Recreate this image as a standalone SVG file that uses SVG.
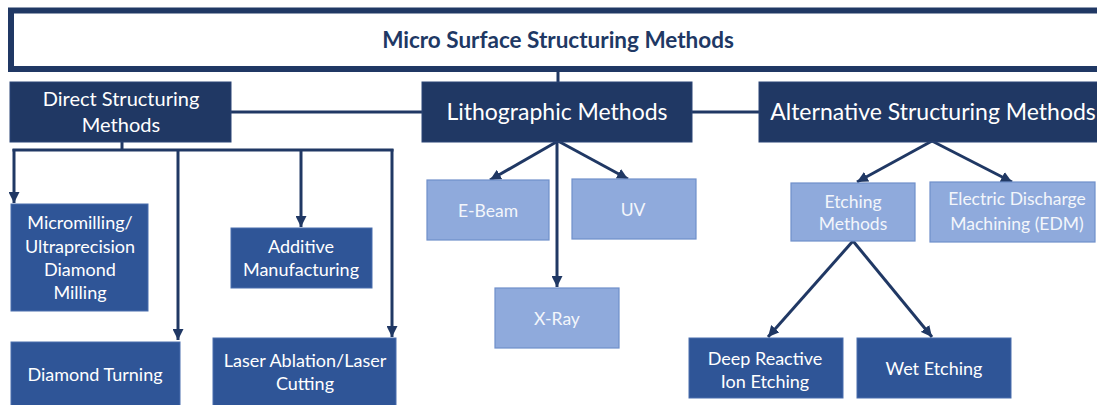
<svg xmlns="http://www.w3.org/2000/svg" width="1097" height="405" viewBox="0 0 1097 405">
  <defs>
    <marker id="arrow" viewBox="0 0 10 10" refX="10" refY="5" markerWidth="11" markerHeight="11" markerUnits="userSpaceOnUse" orient="auto">
      <path d="M0,0 L10,5 L0,10 z" fill="#203864"/>
    </marker>
    <style>
      text { font-family: Lato, "Open Sans", "Liberation Sans", sans-serif; text-anchor: middle; }
      .title { font-size: 22.5px; font-weight: bold; fill: #203864; }
      .dark { fill: #203864; stroke: #2a4476; stroke-width: 1; }
      .mid { fill: #2F5597; stroke: #4a6fae; stroke-width: 1; }
      .light { fill: #8FAADC; stroke: #6f8fca; stroke-width: 1.2; }
      .t1 { font-size: 23px; fill: #ffffff; }
      .t2 { font-size: 20px; fill: #ffffff; }
      .t3 { font-size: 18px; fill: #ffffff; }
      .t4 { font-size: 17.5px; fill: #f3f6fb; }
      .conn { fill: none; stroke: #203864; stroke-width: 3; }
      .arr { marker-end: url(#arrow); }
    </style>
  </defs>

  <!-- connectors -->
  <g id="connectors">
    <path class="conn" d="M558,72 V82"/>
    <path class="conn" d="M231,112 H422"/>
    <path class="conn" d="M692,112 H759"/>
    <path class="conn" d="M122,142 V150"/>
    <path class="conn" d="M12.5,150 H393.5"/>
    <path class="conn arr" d="M14,149 V203"/>
    <path class="conn arr" d="M178,150 V340"/>
    <path class="conn arr" d="M301,150 V227"/>
    <path class="conn arr" d="M392,149 V337"/>
    <path class="conn arr" d="M558,141 L490,180"/>
    <path class="conn arr" d="M558,141 L628,179"/>
    <path class="conn arr" d="M557,141 V287"/>
    <path class="conn arr" d="M932,141 L857,182"/>
    <path class="conn arr" d="M932,141 L1012,182"/>
    <path class="conn arr" d="M853,241 L768,337"/>
    <path class="conn arr" d="M853,241 L932,337"/>
  </g>

  <g id="root">
    <rect x="11" y="10.5" width="1100" height="58.5" fill="#ffffff" stroke="#203864" stroke-width="6"/>
    <text class="title" x="558" y="48">Micro Surface Structuring Methods</text>
  </g>

  <g id="direct">
    <rect class="dark" x="10" y="82" width="221" height="60"/>
    <text class="t2" x="121" y="106">Direct Structuring</text>
    <text class="t2" x="121" y="132">Methods</text>
  </g>

  <g id="litho">
    <rect class="dark" x="422" y="82" width="270" height="60"/>
    <text class="t1" x="557" y="120">Lithographic Methods</text>
  </g>

  <g id="alternative">
    <rect class="dark" x="759" y="82" width="345" height="60"/>
    <text class="t1" x="933" y="120">Alternative Structuring Methods</text>
  </g>

  <g id="micromilling">
    <rect class="mid" x="11" y="204" width="137" height="107"/>
    <text class="t3" x="80" y="229">Micromilling/</text>
    <text class="t3" x="80" y="253">Ultraprecision</text>
    <text class="t3" x="80" y="276">Diamond</text>
    <text class="t3" x="80" y="299">Milling</text>
  </g>

  <g id="diamond-turning">
    <rect class="mid" x="11" y="342" width="169" height="70"/>
    <text class="t3" x="95" y="381">Diamond Turning</text>
  </g>

  <g id="additive">
    <rect class="mid" x="231" y="228" width="141" height="60"/>
    <text class="t3" x="301" y="253">Additive</text>
    <text class="t3" x="301" y="276">Manufacturing</text>
  </g>

  <g id="laser">
    <rect class="mid" x="213" y="338" width="183" height="70"/>
    <text class="t3" x="305" y="367">Laser Ablation/Laser</text>
    <text class="t3" x="305" y="390">Cutting</text>
  </g>

  <g id="ebeam">
    <rect class="light" x="427" y="180" width="122" height="60"/>
    <text class="t4" x="488" y="217">E-Beam</text>
  </g>

  <g id="uv">
    <rect class="light" x="572" y="179" width="124" height="60"/>
    <text class="t4" x="633" y="216">UV</text>
  </g>

  <g id="xray">
    <rect class="light" x="495" y="288" width="124" height="60"/>
    <text class="t4" x="557" y="325">X-Ray</text>
  </g>

  <g id="etching">
    <rect class="light" x="791" y="183" width="124" height="58"/>
    <text class="t4" x="853" y="208">Etching</text>
    <text class="t4" x="853" y="230">Methods</text>
  </g>

  <g id="edm">
    <rect class="light" x="930" y="182" width="165" height="60"/>
    <text class="t4" x="1017" y="205">Electric Discharge</text>
    <text class="t4" x="1017" y="230">Machining (EDM)</text>
  </g>

  <g id="drie">
    <rect class="mid" x="689" y="338" width="154" height="60"/>
    <text class="t3" x="765" y="365">Deep Reactive</text>
    <text class="t3" x="765" y="388">Ion Etching</text>
  </g>

  <g id="wet">
    <rect class="mid" x="857" y="338" width="154" height="60"/>
    <text class="t3" x="934" y="375">Wet Etching</text>
  </g>
</svg>
